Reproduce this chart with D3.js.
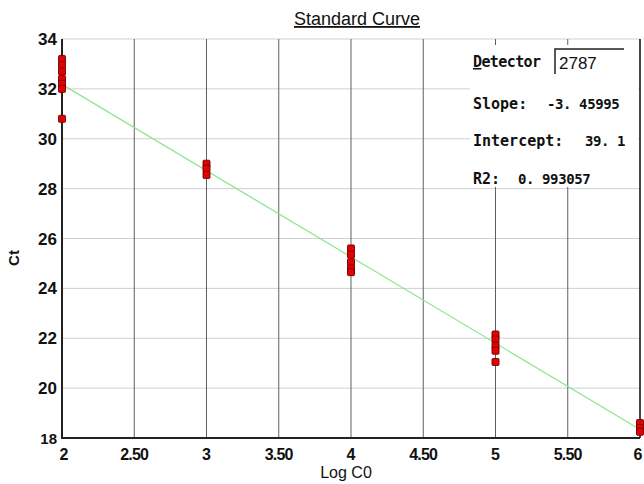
<!DOCTYPE html>
<html>
<head>
<meta charset="utf-8">
<script src="https://cdn.jsdelivr.net/npm/d3@7"></script>
<style>
  body { margin: 0; background: #fff; }
  svg { display: block; }
</style>
</head>
<body>
<svg id="chart" width="644" height="484"></svg>
<script>
// Replicate measurements (log concentration, Ct)
const logC0 = [2, 2, 2, 2, 2, 2, 2,
               3, 3, 3,
               4, 4, 4, 4, 4,
               5, 5, 5, 5, 5,
               6, 6, 6];
const ctValues = [33.2, 32.95, 32.7, 32.4, 32.2, 32.0, 30.8,
                  29.0, 28.8, 28.55,
                  25.6, 25.35, 25.05, 24.8, 24.65,
                  22.15, 21.95, 21.7, 21.5, 21.05,
                  18.6, 18.4, 18.25];

const xTicks = [2, 2.5, 3, 3.5, 4, 4.5, 5, 5.5, 6];
const xTickLabels = ["2", "2.50", "3", "3.50", "4", "4.50", "5", "5.50", "6"];
const yTicks = [18, 20, 22, 24, 26, 28, 30, 32, 34];

const detector = "2787";
const slope = -3.45995;
const intercept = 39.1;
const r2 = 0.993057;

const svg = d3.select('#chart');
const margin = {left: 62, right: 4, top: 39, bottom: 46};
const width = 644 - margin.left - margin.right;
const height = 484 - margin.top - margin.bottom;

const x = d3.scaleLinear().domain([2, 6]).range([margin.left, margin.left + width]);
const y = d3.scaleLinear().domain([18, 34]).range([margin.top + height, margin.top]);

// horizontal grid (light)
svg.append('g')
  .selectAll('line')
  .data(yTicks)
  .enter()
  .append('line')
  .attr('x1', x(2)).attr('x2', x(6))
  .attr('y1', d => y(d)).attr('y2', d => y(d))
  .attr('stroke', '#cfcfcf')
  .attr('stroke-width', 1);

// vertical grid (dark)
svg.append('g')
  .selectAll('line')
  .data(xTicks)
  .enter()
  .append('line')
  .attr('x1', d => x(d)).attr('x2', d => x(d))
  .attr('y1', y(34)).attr('y2', y(18))
  .attr('stroke', '#606060')
  .attr('stroke-width', 1);

// info box covers grid in upper right
const box = svg.append('g');
box.append('rect')
  .attr('x', 470).attr('y', 45)
  .attr('width', 168).attr('height', 142)
  .attr('fill', '#fff');

// fit line
svg.append('line')
  .attr('x1', x(2)).attr('y1', y(slope * 2 + intercept))
  .attr('x2', x(6)).attr('y2', y(slope * 6 + intercept))
  .attr('stroke', '#8ee68e')
  .attr('stroke-width', 1.2);

// axes lines
svg.append('line')
  .attr('x1', x(2)).attr('x2', x(2))
  .attr('y1', y(34)).attr('y2', y(18))
  .attr('stroke', '#222').attr('stroke-width', 2);
svg.append('line')
  .attr('x1', x(2) - 1).attr('x2', x(6))
  .attr('y1', y(18)).attr('y2', y(18))
  .attr('stroke', '#222').attr('stroke-width', 2);
svg.append('line')
  .attr('x1', x(6)).attr('x2', x(6))
  .attr('y1', y(34)).attr('y2', y(18))
  .attr('stroke', '#222').attr('stroke-width', 1.5);

// points
const pts = logC0.map((d, i) => ({lx: d, ct: ctValues[i]}));
svg.append('g')
  .selectAll('rect')
  .data(pts)
  .enter()
  .append('rect')
  .attr('x', d => x(d.lx) - 3.5)
  .attr('y', d => y(d.ct) - 3.5)
  .attr('width', 7).attr('height', 7)
  .attr('rx', 1)
  .attr('fill', '#e60000')
  .attr('stroke', '#6a0000')
  .attr('stroke-width', 0.9);

// tick labels
svg.append('g')
  .selectAll('text')
  .data(yTicks)
  .enter()
  .append('text')
  .attr('x', 57)
  .attr('y', d => y(d) + 6)
  .attr('text-anchor', 'end')
  .attr('font-family', 'Liberation Sans, Arial, sans-serif')
  .attr('font-weight', 'bold')
  .attr('font-size', d => d == 18 ? 15 : 17)
  .attr('fill', '#111')
  .text(d => d);

svg.append('g')
  .selectAll('text')
  .data(xTicks)
  .enter()
  .append('text')
  .attr('x', (d, i) => i == xTicks.length - 1 ? x(d) - 2 : x(d) + (i == 0 ? 2 : 0))
  .attr('y', 460)
  .attr('text-anchor', 'middle')
  .attr('font-family', 'Liberation Sans, Arial, sans-serif')
  .attr('font-weight', 'bold')
  .attr('font-size', 16)
  .attr('letter-spacing', (d, i) => xTickLabels[i].length > 1 ? -0.8 : 0)
  .attr('fill', '#111')
  .text((d, i) => xTickLabels[i]);

// axis titles
svg.append('text')
  .attr('x', 346).attr('y', 478)
  .attr('text-anchor', 'middle')
  .attr('font-family', 'Liberation Sans, Arial, sans-serif')
  .attr('font-size', 16)
  .attr('fill', '#111')
  .text('Log C0');

svg.append('text')
  .attr('transform', 'translate(19,258) rotate(-90)')
  .attr('text-anchor', 'middle')
  .attr('font-family', 'Liberation Sans, Arial, sans-serif')
  .attr('font-weight', 'bold')
  .attr('font-size', 15)
  .attr('fill', '#111')
  .text('Ct');

// title
svg.append('text')
  .attr('x', 357).attr('y', 25)
  .attr('text-anchor', 'middle')
  .attr('font-family', 'Liberation Sans, Arial, sans-serif')
  .attr('font-size', 18)
  .attr('text-decoration', 'underline')
  .attr('fill', '#111')
  .text('Standard Curve');

// info box text
const mono = 'DejaVu Sans Mono, Liberation Mono, monospace';
function info(label, value, yy, vx) {
  box.append('text')
    .attr('x', 473).attr('y', yy)
    .attr('font-family', mono)
    .attr('font-weight', 'bold')
    .attr('font-size', 15)
    .attr('fill', '#111')
    .text(label);
  box.append('text')
    .attr('x', vx).attr('y', yy)
    .attr('font-family', mono)
    .attr('font-weight', 'bold')
    .attr('font-size', 14)
    .attr('letter-spacing', -0.4)
    .attr('fill', '#111')
    .text(value);
}
box.append('text')
  .attr('x', 473).attr('y', 67)
  .attr('font-family', mono)
  .attr('font-weight', 'bold')
  .attr('font-size', 15)
  .attr('letter-spacing', -0.6)
  .attr('fill', '#111')
  .html('<tspan text-decoration="underline">D</tspan>etector');
box.append('path')
  .attr('d', 'M555,74 V49 H624')
  .attr('fill', 'none')
  .attr('stroke', '#222')
  .attr('stroke-width', 1.5);
box.append('text')
  .attr('x', 559).attr('y', 69)
  .attr('font-family', 'Liberation Sans, Arial, sans-serif')
  .attr('font-size', 17)
  .attr('fill', '#111')
  .text(detector);

info('Slope:', slope.toFixed(5).replace('.', '. '), 109, 547);
info('Intercept:', intercept.toFixed(1).replace('.', '. '), 146, 585);
info('R2:', r2.toFixed(6).replace('.', '. '), 184, 518);
</script>
</body>
</html>
